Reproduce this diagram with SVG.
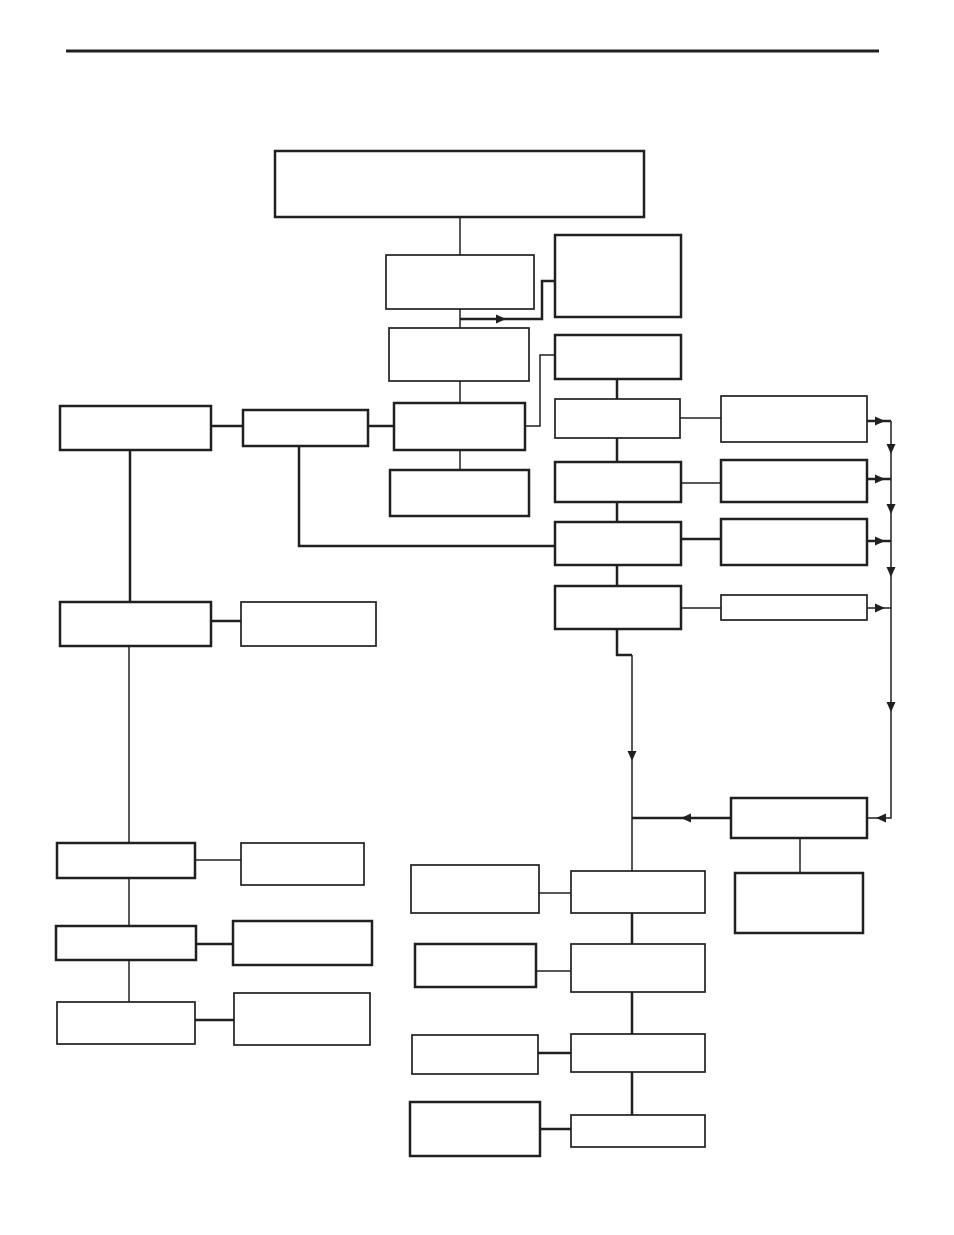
<svg xmlns="http://www.w3.org/2000/svg" xmlns:xlink="http://www.w3.org/1999/xlink" width="954" height="1235" viewBox="0 0 954 1235">
<style>
.n{fill:#fff;stroke:#231f20;stroke-width:1.7}
.k{fill:#fff;stroke:#231f20;stroke-width:2.5}
.c{fill:none;stroke:#231f20;stroke-width:1.5}
.t{fill:none;stroke:#231f20;stroke-width:2.5}
.a{fill:#231f20}
</style>
<defs>
<path id="ah" d="M0,0 L-10,-4.5 L-10,4.5 Z"/>
</defs>
<rect x="0" y="0" width="954" height="1235" fill="#fff"/>
<line x1="66" y1="51" x2="879" y2="51" stroke="#231f20" stroke-width="3"/>
<g id="connectors">
<path class="c" d="M460,217 V255"/>
<path class="c" d="M460,309 V328"/>
<path class="t" d="M460,319 H542 V281 H555"/>
<path class="c" d="M460,381 V403"/>
<path class="c" d="M460,450 V470"/>
<path class="c" d="M525,426 H540 V355 H555"/>
<path class="t" d="M617,379 V399"/>
<path class="t" d="M617,438 V462"/>
<path class="t" d="M617,502 V522"/>
<path class="t" d="M617,565 V586"/>
<path class="t" d="M617,629 V655 H632"/>
<path class="c" d="M632,655 V871"/>
<path class="c" d="M680,418 H721"/>
<path class="c" d="M681,483 H721"/>
<path class="t" d="M681,539 H721"/>
<path class="c" d="M681,608 H721"/>
<path class="t" d="M867,421 H891"/>
<path class="t" d="M867,479 H891"/>
<path class="t" d="M867,541 H891"/>
<path class="c" d="M867,608 H891"/>
<path class="c" d="M891,421 V818 H867"/>
<path class="t" d="M731,818 H632"/>
<path class="c" d="M800,838 V873"/>
<path class="t" d="M632,913 V944"/>
<path class="t" d="M632,992 V1034"/>
<path class="t" d="M632,1072 V1115"/>
<path class="c" d="M539,893 H571"/>
<path class="c" d="M536,971 H571"/>
<path class="t" d="M538,1053 H571"/>
<path class="t" d="M540,1129 H571"/>
<path class="t" d="M211,426 H243"/>
<path class="t" d="M368,426 H394"/>
<path class="t" d="M299,446 V546 H555"/>
<path class="t" d="M130,450 V602"/>
<path class="t" d="M211,621 H241"/>
<path class="c" d="M129,646 V843"/>
<path class="c" d="M195,860 H241"/>
<path class="c" d="M129,878 V926"/>
<path class="t" d="M196,944 H233"/>
<path class="c" d="M129,960 V1002"/>
<path class="t" d="M195,1020 H234"/>
<use class="a" href="#ah" transform="translate(506,319)"/>
<use class="a" href="#ah" transform="translate(885,421)"/>
<use class="a" href="#ah" transform="translate(885,479)"/>
<use class="a" href="#ah" transform="translate(885,541)"/>
<use class="a" href="#ah" transform="translate(885,608)"/>
<use class="a" href="#ah" transform="translate(891,454) rotate(90)"/>
<use class="a" href="#ah" transform="translate(891,514) rotate(90)"/>
<use class="a" href="#ah" transform="translate(891,577) rotate(90)"/>
<use class="a" href="#ah" transform="translate(891,712) rotate(90)"/>
<use class="a" href="#ah" transform="translate(876,818) rotate(180)"/>
<use class="a" href="#ah" transform="translate(681,818) rotate(180)"/>
<use class="a" href="#ah" transform="translate(632,761) rotate(90)"/>
</g>
<g id="top"><rect class="k" x="275" y="151" width="369" height="66"/></g>
<g id="b1"><rect class="n" x="386" y="255" width="148" height="54"/></g>
<g id="b2"><rect class="k" x="555" y="235" width="126" height="82"/></g>
<g id="b3"><rect class="n" x="389" y="328" width="140" height="53"/></g>
<g id="b4"><rect class="k" x="394" y="403" width="131" height="47"/></g>
<g id="b5"><rect class="k" x="390" y="470" width="139" height="46"/></g>
<g id="r1"><rect class="k" x="555" y="335" width="126" height="44"/></g>
<g id="r2"><rect class="n" x="555" y="399" width="125" height="39"/></g>
<g id="r3"><rect class="k" x="555" y="462" width="126" height="40"/></g>
<g id="r4"><rect class="k" x="555" y="522" width="126" height="43"/></g>
<g id="r5"><rect class="k" x="555" y="586" width="126" height="43"/></g>
<g id="s1"><rect class="n" x="721" y="396" width="146" height="46"/></g>
<g id="s2"><rect class="k" x="721" y="460" width="146" height="42"/></g>
<g id="s3"><rect class="k" x="721" y="519" width="146" height="46"/></g>
<g id="s4"><rect class="n" x="721" y="595" width="146" height="25"/></g>
<g id="t1"><rect class="k" x="731" y="798" width="136" height="40"/></g>
<g id="t2"><rect class="k" x="735" y="873" width="128" height="60"/></g>
<g id="c1"><rect class="n" x="571" y="871" width="134" height="42"/></g>
<g id="c2"><rect class="n" x="571" y="944" width="134" height="48"/></g>
<g id="c3"><rect class="n" x="571" y="1034" width="134" height="38"/></g>
<g id="c4"><rect class="n" x="571" y="1115" width="134" height="32"/></g>
<g id="l1"><rect class="n" x="411" y="865" width="128" height="48"/></g>
<g id="l2"><rect class="k" x="415" y="944" width="121" height="43"/></g>
<g id="l3"><rect class="n" x="412" y="1035" width="126" height="39"/></g>
<g id="l4"><rect class="k" x="410" y="1102" width="130" height="54"/></g>
<g id="a1"><rect class="k" x="60" y="406" width="151" height="44"/></g>
<g id="a2"><rect class="k" x="243" y="410" width="125" height="36"/></g>
<g id="a3"><rect class="k" x="60" y="602" width="151" height="44"/></g>
<g id="a4"><rect class="n" x="241" y="602" width="135" height="44"/></g>
<g id="d1"><rect class="k" x="57" y="843" width="138" height="35"/></g>
<g id="e1"><rect class="n" x="241" y="843" width="123" height="42"/></g>
<g id="d2"><rect class="k" x="56" y="926" width="140" height="34"/></g>
<g id="e2"><rect class="k" x="233" y="921" width="139" height="44"/></g>
<g id="d3"><rect class="n" x="57" y="1002" width="138" height="42"/></g>
<g id="e3"><rect class="n" x="234" y="993" width="136" height="52"/></g>
</svg>
